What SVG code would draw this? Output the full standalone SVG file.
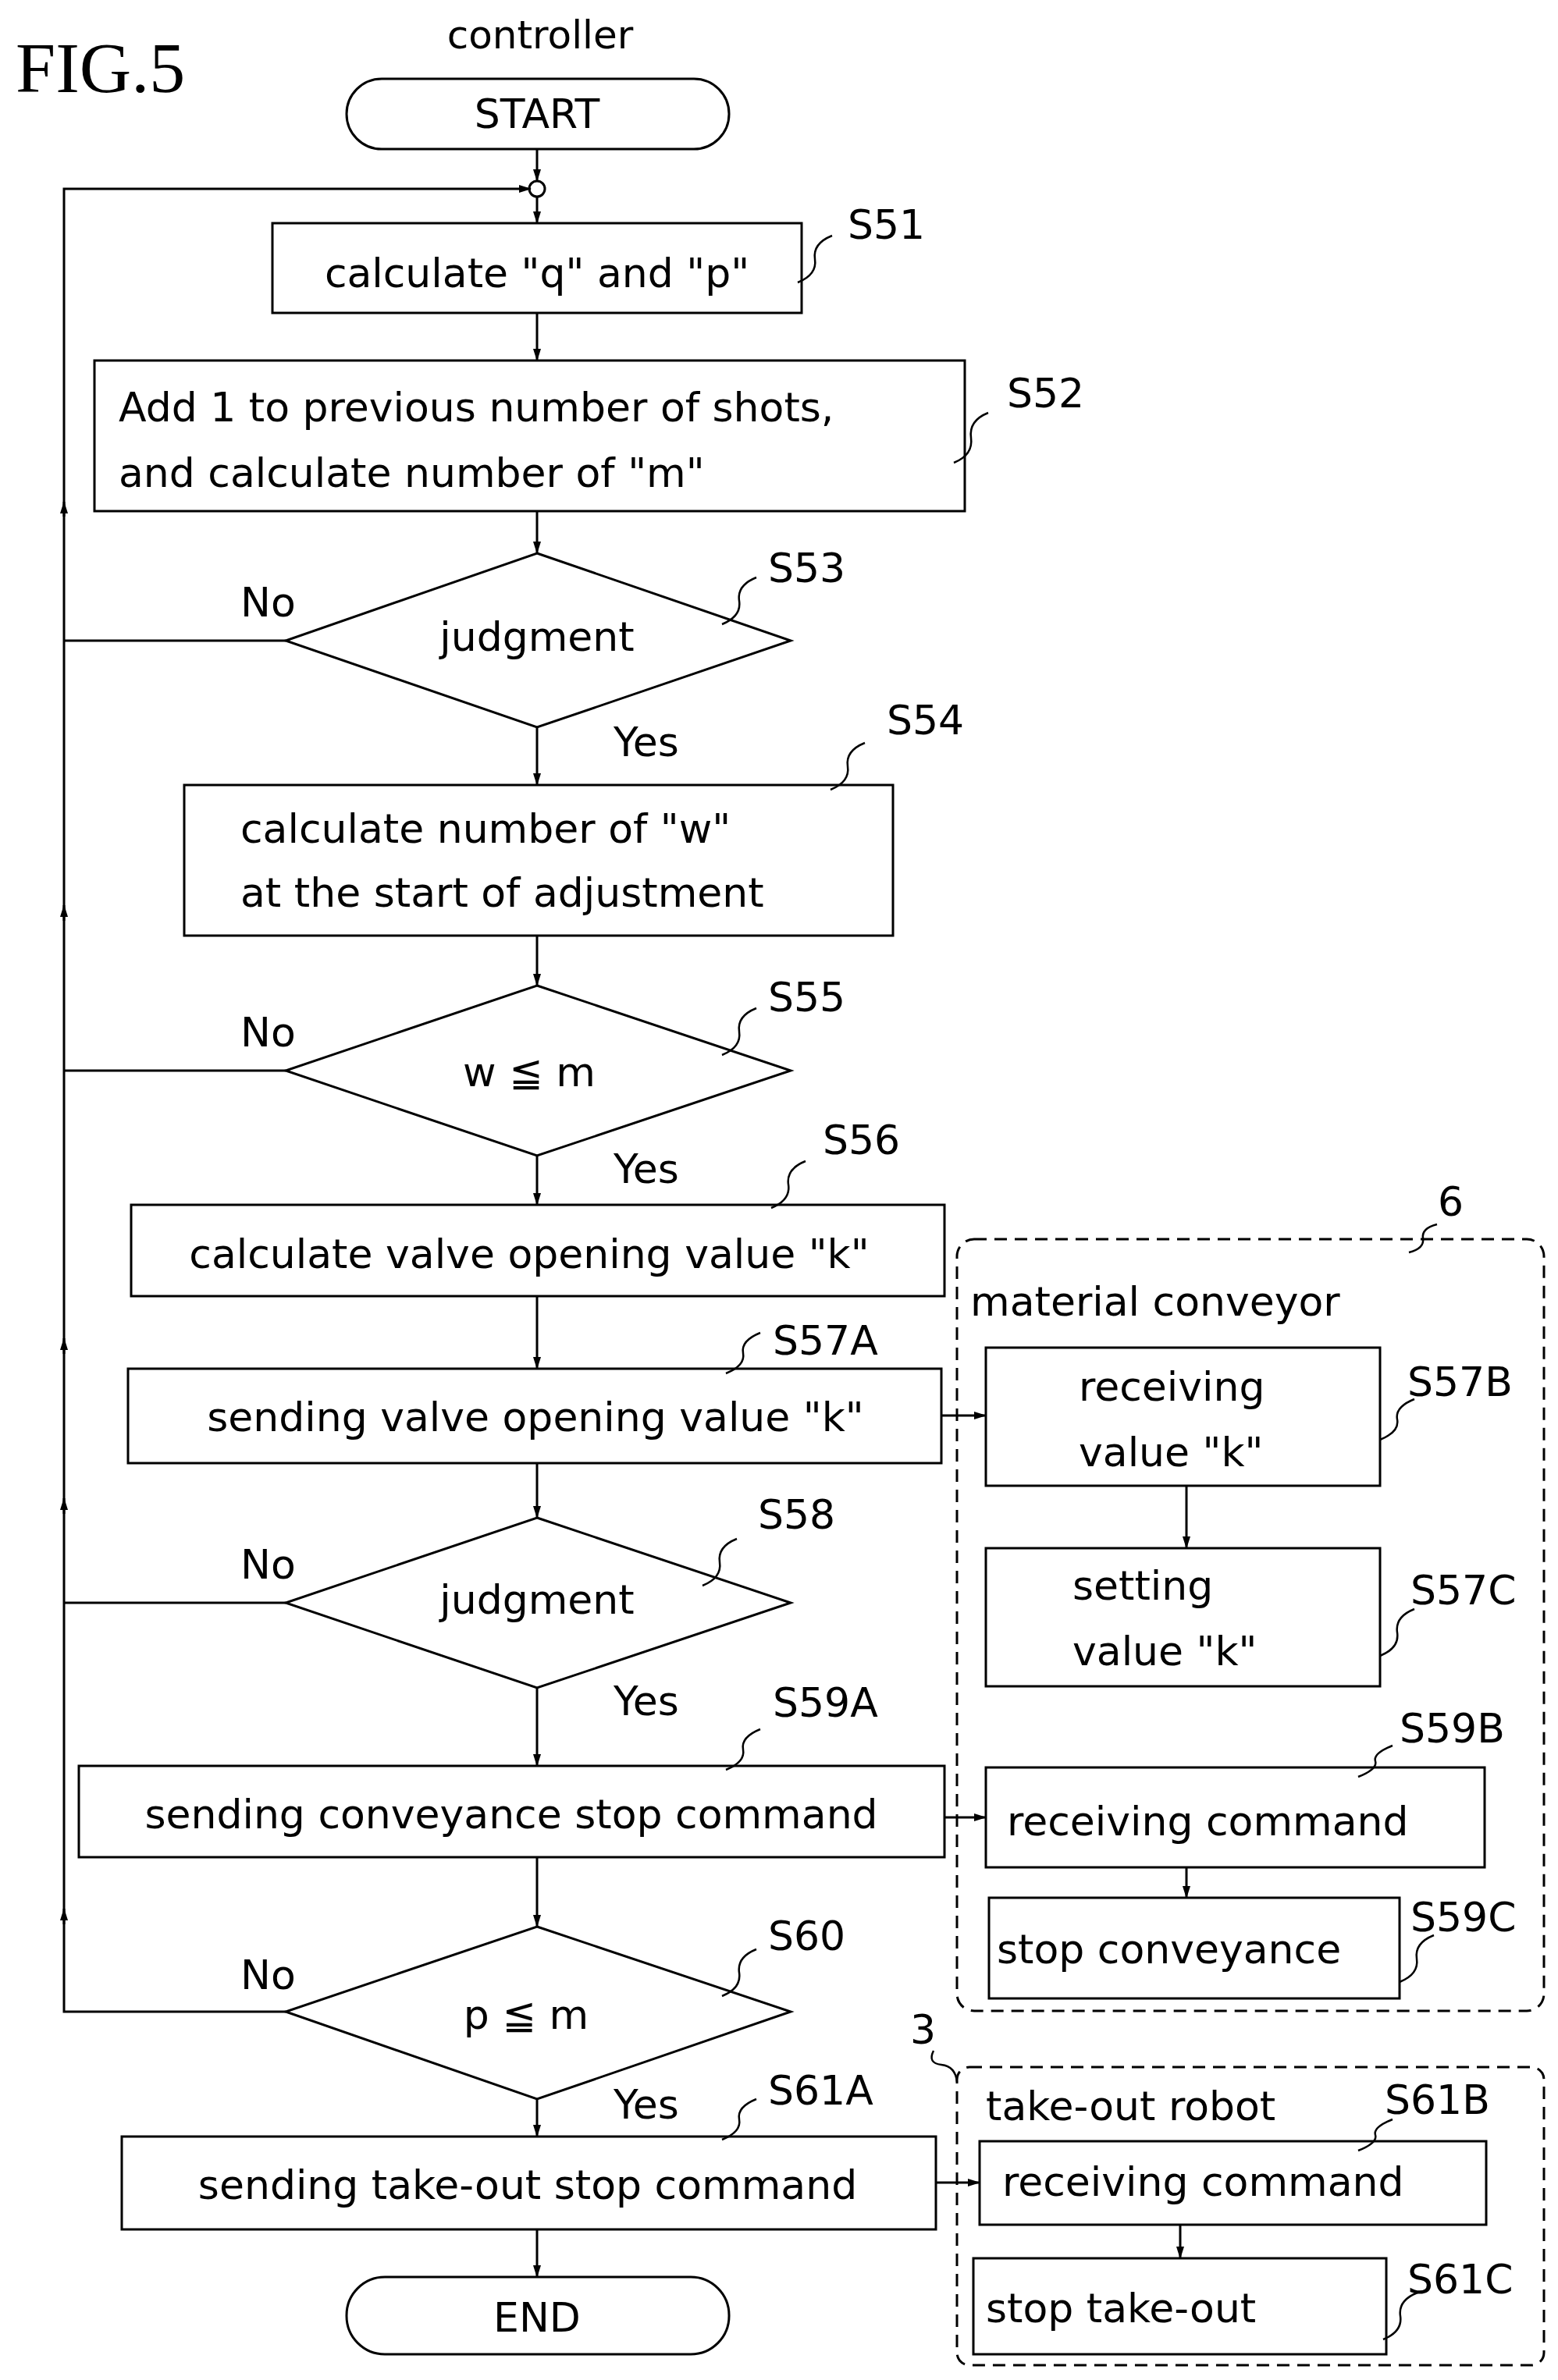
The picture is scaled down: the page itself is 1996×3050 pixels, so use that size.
<svg xmlns="http://www.w3.org/2000/svg" width="1996" height="3050" viewBox="0 0 1996 3050">
<style>
.b{fill:#fff;stroke:#000;stroke-width:3}
.d{fill:none;stroke:#000;stroke-width:3;stroke-dasharray:16 10}
.l{fill:none;stroke:#000;stroke-width:3}
.s{fill:none;stroke:#000;stroke-width:2.5}
text{font-family:"DejaVu Sans","Liberation Sans",sans-serif;font-size:52px;fill:#000}
.c{text-anchor:middle}
</style>
<defs><marker id="a" markerWidth="10" markerHeight="10" refX="9" refY="5" orient="auto" markerUnits="userSpaceOnUse" viewBox="0 0 10 10"><path d="M0,1 L10,5 L0,9 z" fill="#000"/></marker>
<marker id="a2" markerWidth="16" markerHeight="16" refX="15" refY="8" orient="auto" markerUnits="userSpaceOnUse" viewBox="0 0 16 16"><path d="M0,3 L16,8 L0,13 z" fill="#000"/></marker></defs>
<text x="20" y="118" style="font-family:'Liberation Serif',serif;font-size:92px">FIG.5</text>
<text x="692" y="62" class="c" style="font-size:50px">controller</text>
<g id="connectors">
<path class="l" d="M688 191 V232" marker-end="url(#a2)"/>
<circle cx="688" cy="242" r="10" class="b"/>
<path class="l" d="M688 252 V286" marker-end="url(#a2)"/>
<path class="l" d="M688 401 V462" marker-end="url(#a2)"/>
<path class="l" d="M688 655 V709" marker-end="url(#a2)"/>
<path class="l" d="M688 932 V1006" marker-end="url(#a2)"/>
<path class="l" d="M688 1199 V1263" marker-end="url(#a2)"/>
<path class="l" d="M688 1481 V1544" marker-end="url(#a2)"/>
<path class="l" d="M688 1661 V1754" marker-end="url(#a2)"/>
<path class="l" d="M688 1875 V1945" marker-end="url(#a2)"/>
<path class="l" d="M688 2163 V2263" marker-end="url(#a2)"/>
<path class="l" d="M688 2380 V2469" marker-end="url(#a2)"/>
<path class="l" d="M688 2690 V2738" marker-end="url(#a2)"/>
<path class="l" d="M688 2857 V2918" marker-end="url(#a2)"/>
<path class="l" d="M366 821 H82 M366 1372 H82 M366 2054 H82 M366 2578 H82 V242 H676"/>
<path class="l" d="M82 662 V643" marker-end="url(#a2)"/>
<path class="l" d="M82 1180 V1160" marker-end="url(#a2)"/>
<path class="l" d="M82 1735 V1715" marker-end="url(#a2)"/>
<path class="l" d="M82 1940 V1920" marker-end="url(#a2)"/>
<path class="l" d="M82 2466 V2446" marker-end="url(#a2)"/>
<path class="l" d="M678 242 H680" marker-end="url(#a2)"/>
<path class="l" d="M1206 1814 H1263" marker-end="url(#a2)"/>
<path class="l" d="M1210 2329 H1263" marker-end="url(#a2)"/>
<path class="l" d="M1199 2797 H1255" marker-end="url(#a2)"/>
<path class="l" d="M1520 1904 V1984" marker-end="url(#a2)"/>
<path class="l" d="M1520 2393 V2432" marker-end="url(#a2)"/>
<path class="l" d="M1512 2851 V2894" marker-end="url(#a2)"/>
</g>
<g id="start"><rect class="b" x="444" y="101" width="490" height="90" rx="45"/><text x="688" y="164" class="c">START</text></g>
<g id="S51"><rect class="b" x="349" y="286" width="678" height="115"/><text x="688" y="368" class="c">calculate "q" and "p"</text><path class="s" d="M1022 362 q25 -10 22 -30 t22 -30"/><text x="1086" y="306">S51</text></g>
<g id="S52"><rect class="b" x="121" y="462" width="1115" height="193"/><text x="152" y="540">Add 1 to previous number of shots,</text><text x="152" y="624">and calculate number of "m"</text><path class="s" d="M1222 593 q25 -10 22 -32 t22 -32"/><text x="1290" y="522">S52</text></g>
<g id="S53"><path class="b" d="M688 709 L1013 821 L688 932 L366 821 Z"/><text x="688" y="834" class="c">judgment</text><path class="s" d="M925 800 q25 -10 22 -30 t22 -30"/><text x="984" y="746">S53</text><text x="308" y="790">No</text><text x="786" y="969">Yes</text></g>
<g id="S54"><rect class="b" x="236" y="1006" width="908" height="193"/><text x="308" y="1080">calculate number of "w"</text><text x="308" y="1162">at the start of adjustment</text><path class="s" d="M1064 1012 q25 -10 22 -30 t22 -30"/><text x="1136" y="941">S54</text></g>
<g id="S55"><path class="b" d="M688 1263 L1013 1372 L688 1481 L366 1372 Z"/><text x="678" y="1392" class="c">w ≦ m</text><path class="s" d="M925 1352 q25 -10 22 -30 t22 -30"/><text x="984" y="1296">S55</text><text x="308" y="1341">No</text><text x="786" y="1516">Yes</text></g>
<g id="S56"><rect class="b" x="168" y="1544" width="1042" height="117"/><text x="678" y="1625" class="c">calculate valve opening value "k"</text><path class="s" d="M988 1548 q25 -10 22 -30 t22 -30"/><text x="1054" y="1479">S56</text></g>
<g id="S57A"><rect class="b" x="164" y="1754" width="1042" height="121"/><text x="686" y="1834" class="c">sending valve opening value "k"</text><path class="s" d="M930 1760 q25 -10 22 -26 t22 -26"/><text x="990" y="1736">S57A</text></g>
<g id="S58"><path class="b" d="M688 1945 L1013 2054 L688 2163 L366 2054 Z"/><text x="688" y="2068" class="c">judgment</text><path class="s" d="M900 2032 q25 -10 22 -30 t22 -30"/><text x="971" y="1959">S58</text><text x="308" y="2023">No</text><text x="786" y="2198">Yes</text></g>
<g id="S59A"><rect class="b" x="101" y="2263" width="1109" height="117"/><text x="655" y="2343" class="c">sending conveyance stop command</text><path class="s" d="M930 2268 q25 -10 22 -26 t22 -26"/><text x="990" y="2200">S59A</text></g>
<g id="S60"><path class="b" d="M688 2469 L1013 2578 L688 2690 L366 2578 Z"/><text x="674" y="2600" class="c">p ≦ m</text><path class="s" d="M925 2558 q25 -10 22 -30 t22 -30"/><text x="984" y="2499">S60</text><text x="308" y="2549">No</text><text x="786" y="2715">Yes</text></g>
<g id="S61A"><rect class="b" x="156" y="2738" width="1043" height="119"/><text x="676" y="2818" class="c">sending take-out stop command</text><path class="s" d="M925 2742 q25 -10 22 -26 t22 -26"/><text x="984" y="2697">S61A</text></g>
<g id="end"><rect class="b" x="444" y="2918" width="490" height="99" rx="49"/><text x="688" y="2988" class="c">END</text></g>
<g id="conveyor"><rect class="d" x="1226" y="1588" width="752" height="989" rx="22"/><path class="s" d="M1805 1605 q20 -5 18 -18 t18 -18"/><text x="1842" y="1558">6</text><text x="1243" y="1686">material conveyor</text></g>
<g id="S57B"><rect class="b" x="1263" y="1727" width="505" height="177"/><text x="1382" y="1795">receiving</text><text x="1382" y="1879">value "k"</text><path class="s" d="M1768 1845 q25 -10 22 -26 t22 -26"/><text x="1803" y="1789">S57B</text></g>
<g id="S57C"><rect class="b" x="1263" y="1984" width="505" height="177"/><text x="1374" y="2050">setting</text><text x="1374" y="2134">value "k"</text><path class="s" d="M1768 2122 q25 -10 22 -30 t22 -30"/><text x="1807" y="2056">S57C</text></g>
<g id="S59B"><rect class="b" x="1263" y="2265" width="639" height="128"/><text x="1290" y="2352">receiving command</text><path class="s" d="M1740 2277 q25 -10 22 -20 t22 -20"/><text x="1793" y="2233">S59B</text></g>
<g id="S59C"><rect class="b" x="1267" y="2432" width="526" height="129"/><text x="1277" y="2516">stop conveyance</text><path class="s" d="M1793 2540 q25 -10 22 -30 t22 -30"/><text x="1807" y="2475">S59C</text></g>
<g id="robot"><rect class="d" x="1226" y="2649" width="752" height="382" rx="16"/><path class="s" d="M1226 2668 q-2 -20 -20 -22 t-10 -18"/><text x="1166" y="2619">3</text><text x="1263" y="2717">take-out robot</text></g>
<g id="S61B"><rect class="b" x="1255" y="2744" width="649" height="107"/><text x="1284" y="2814">receiving command</text><path class="s" d="M1740 2756 q25 -10 22 -20 t22 -20"/><text x="1774" y="2709">S61B</text></g>
<g id="S61C"><rect class="b" x="1247" y="2894" width="529" height="123"/><text x="1263" y="2976">stop take-out</text><path class="s" d="M1772 2998 q25 -10 22 -30 t22 -30"/><text x="1803" y="2939">S61C</text></g>
</svg>
